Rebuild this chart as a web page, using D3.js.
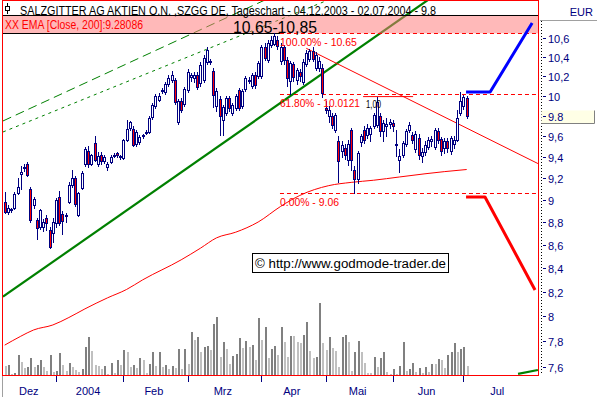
<!DOCTYPE html>
<html><head><meta charset="utf-8">
<script src="https://cdn.jsdelivr.net/npm/d3@7"></script>
<style>html,body{margin:0;padding:0;background:#fff;overflow:hidden}svg{display:block}text{font-family:"Liberation Sans",Arial,sans-serif}</style>
</head><body><svg id="c" width="597" height="397"></svg>
<script>
// ---- DATA ----
const opens=[8.98,8.89,8.91,8.93,9.06,9.24,9.29,9.33,9.10,8.95,
8.82,8.76,8.76,8.84,8.73,8.70,8.79,9.03,8.87,8.85,
8.98,9.14,9.20,8.86,9.11,9.33,9.46,9.33,9.53,9.33,
9.42,9.36,9.30,9.35,9.41,9.44,9.41,9.39,9.56,9.68,
9.67,9.52,9.54,9.60,9.63,9.64,9.79,9.90,9.96,10.05,
10.04,10.12,10.16,10.16,9.74,9.95,9.92,10.06,10.19,10.18,
10.21,10.13,10.16,10.35,10.35,10.25,9.90,9.97,9.76,9.83,
9.98,9.83,9.88,10.06,9.90,10.07,10.15,10.10,10.21,10.20,
10.20,10.50,10.37,10.53,10.54,10.58,10.36,10.50,10.37,10.15,
10.33,10.16,10.24,10.14,10.32,10.38,10.46,10.28,10.28,10.28,
9.88,9.80,9.80,9.66,9.55,9.46,9.48,9.37,9.66,9.28,
9.19,9.54,9.66,9.61,9.62,9.70,9.71,9.80,9.65,9.70,
9.72,9.73,9.51,9.37,9.42,9.52,9.66,9.61,9.47,9.58,
9.41,9.45,9.49,9.55,9.49,9.65,9.57,9.48,9.55,9.46,
9.52,9.56,9.83,9.90,9.98];
const highs=[9.07,8.95,8.93,9.07,9.20,9.31,9.33,9.35,9.12,9.03,
8.84,8.92,8.83,8.86,8.76,8.84,9.02,9.08,8.90,8.88,
9.16,9.28,9.22,9.07,9.27,9.49,9.50,9.43,9.60,9.45,
9.45,9.42,9.35,9.42,9.44,9.45,9.42,9.57,9.76,9.75,
9.70,9.66,9.61,9.62,9.66,9.80,9.93,10.02,10.03,10.08,
10.14,10.21,10.25,10.18,9.97,9.98,10.09,10.27,10.23,10.24,
10.24,10.35,10.42,10.50,10.38,10.28,10.08,10.00,9.91,10.00,
10.00,9.93,10.02,10.08,10.07,10.20,10.19,10.23,10.24,10.36,
10.52,10.55,10.58,10.62,10.65,10.62,10.55,10.53,10.40,10.36,
10.35,10.28,10.27,10.38,10.47,10.48,10.50,10.45,10.40,10.32,
9.95,9.90,9.83,9.83,9.60,9.55,9.52,9.56,9.68,9.31,
9.46,9.62,9.70,9.72,9.70,9.83,9.99,9.83,9.76,9.78,
9.77,9.76,9.66,9.47,9.55,9.67,9.74,9.64,9.65,9.62,
9.48,9.55,9.59,9.60,9.68,9.68,9.59,9.58,9.58,9.60,
9.60,9.86,10.04,10.01,10.00];
const lows=[8.88,8.87,8.89,8.92,9.05,9.10,9.27,9.22,8.80,8.93,
8.65,8.74,8.72,8.73,8.57,8.62,8.76,8.77,8.69,8.80,
8.97,9.12,8.94,8.85,9.10,9.31,9.30,9.32,9.36,9.31,
9.33,9.34,9.28,9.34,9.40,9.40,9.38,9.38,9.55,9.66,
9.50,9.50,9.52,9.58,9.62,9.63,9.77,9.88,9.95,10.03,
10.02,10.10,10.14,9.92,9.72,9.84,9.90,10.04,10.15,10.14,
10.07,10.10,10.14,10.33,10.33,9.89,9.85,9.61,9.61,9.81,
9.85,9.81,9.86,9.86,9.88,10.05,10.13,10.08,10.08,10.18,
10.18,10.37,10.35,10.50,10.52,10.48,10.33,10.33,10.10,10.02,
10.15,10.12,10.15,10.12,10.30,10.36,10.36,10.26,10.25,9.99,
9.83,9.74,9.68,9.64,9.16,9.40,9.38,9.32,9.28,9.06,
9.15,9.50,9.53,9.58,9.55,9.68,9.69,9.60,9.55,9.60,
9.68,9.65,9.41,9.26,9.40,9.50,9.64,9.53,9.45,9.38,
9.35,9.42,9.47,9.50,9.47,9.53,9.42,9.44,9.45,9.43,
9.48,9.55,9.81,9.87,9.78];
const closes=[8.89,8.93,8.92,9.05,9.12,9.26,9.30,9.23,8.82,9.01,
8.75,8.91,8.80,8.79,8.58,8.80,9.00,8.79,8.81,8.86,
9.14,9.20,8.96,9.06,9.25,9.47,9.33,9.42,9.37,9.41,
9.36,9.40,9.33,9.40,9.42,9.42,9.40,9.56,9.67,9.74,
9.51,9.64,9.59,9.61,9.64,9.78,9.91,10.00,10.00,10.06,
10.12,10.18,10.21,9.94,9.95,9.86,10.07,10.24,10.21,10.21,
10.09,10.31,10.39,10.47,10.36,10.01,10.05,9.80,9.89,9.98,
9.88,9.91,10.00,9.88,10.05,10.18,10.16,10.21,10.11,10.34,
10.50,10.39,10.55,10.58,10.62,10.51,10.50,10.37,10.18,10.34,
10.19,10.26,10.20,10.35,10.44,10.46,10.38,10.42,10.36,10.03,
9.86,9.86,9.71,9.81,9.36,9.51,9.42,9.52,9.37,9.19,
9.44,9.60,9.56,9.68,9.68,9.81,9.94,9.65,9.73,9.72,
9.74,9.70,9.52,9.41,9.53,9.65,9.71,9.56,9.62,9.42,
9.45,9.51,9.56,9.57,9.66,9.56,9.46,9.55,9.48,9.58,
9.56,9.78,9.95,9.99,9.80];
const volumes=[186,206,20,30,394,256,132,152,332,152,
206,290,166,82,394,62,82,434,206,82,
248,166,104,62,124,558,766,476,206,186,
124,186,20,248,42,290,206,496,456,166,
206,144,332,290,42,228,456,186,456,166,
206,124,186,144,518,124,518,228,868,704,
752,456,558,580,496,1014,1158,352,656,518,
228,380,414,744,538,676,558,600,290,1138,
704,952,332,518,580,394,952,662,352,786,
786,662,642,806,1056,476,332,352,1448,642,
496,766,538,476,166,766,806,662,82,456,
682,456,248,42,42,352,166,332,456,62,
20,124,20,186,662,82,124,248,62,144,
42,166,62,228,228,310,290,144,394,456,
642,456,518,558,186];
const emaIdx=[0,5,9,15,20,25,32,38,43,55,61,66,72,79,86,92,101,108,115,123,131,137,144];
const emaVal=[7.77,7.84,7.89,7.93,7.99,8.06,8.15,8.22,8.30,8.47,8.57,8.66,8.71,8.80,8.94,9.04,9.13,9.16,9.18,9.21,9.24,9.26,9.28];
const monthNames=["Dez","2004","Feb","Mrz","Apr","Mai","Jun","Jul"];
const monthStarts=[0,16,37,57,80,100,121,143,165];
const yTicks=[10.6,10.4,10.2,10,9.6,9.4,9.2,9,8.8,8.6,8.4,8.2,8,7.8,7.6];
const lastPrice=9.8;
const emaLast="9.28086";
const zoneLow=10.65, zoneHigh=10.85;
const fibNames=["100.00%","61.80%","0.00%"];
const fibValues=[10.65,10.0121,9.06];
const fibLabelVals=["10.65","10.0121","9.06"];
const fibStart=85.8;
const greenSolid=[[-0.53,8.16],[131.9,11.015]];
const greenLongDash=[[-0.53,9.747],[81.1,11.015]];
const greenShortDash=[[-0.53,9.639],[100.8,11.015]];
const greenBottom=[[160,7.547],[166.2,7.577]];
const redTrend=[[94,10.49],[166.2,9.336]];
const resistSeg=[[111.7,9.99],[127.3,9.99]];
const blueForecast=[[143.8,10.037],[151.3,10.037],[164.4,10.762]];
const redForecast=[[143.8,9.026],[149.7,9.026],[165.3,8.216]];

// ---- SCALES ----
const x=d3.scaleLinear().domain([0,144]).range([4.7,466.7]);
const y=d3.scaleLog().domain([10.6,7.6]).range([38,367]);
const vScale=d3.scaleLinear().domain([0,1448]).range([0,72.4]);
const NAVY="#000080";

const svg=d3.select("#c");
svg.append("rect").attr("width",597).attr("height",397).attr("fill","#fff");
svg.append("defs").append("clipPath").attr("id","plot")
  .append("rect").attr("x",3).attr("y",1).attr("width",535).attr("height",374);
const g=svg.append("g").attr("clip-path","url(#plot)");
const line=d3.line().x(d=>x(d[0])).y(d=>y(d[1]));

// volume
const idx=d3.range(opens.length);
g.append("g").attr("shape-rendering","crispEdges").selectAll("rect").data(idx).join("rect")
  .attr("x",i=>Math.round(x(i))-0.5).attr("width",2)
  .attr("y",i=>375-Math.round(vScale(volumes[i]))).attr("height",i=>Math.round(vScale(volumes[i])))
  .attr("fill",i=>(i>0&&volumes[i]>volumes[i-1])?"#808080":"#c0c0c0");

// EMA
g.append("path").datum(emaIdx.map((k,j)=>[k,emaVal[j]])).attr("d",d3.line().x(d=>x(d[0])).y(d=>y(d[1])).curve(d3.curveMonotoneX))
  .attr("fill","none").attr("stroke","#ff0000").attr("stroke-width",1);

// green lines
g.append("path").datum(greenLongDash).attr("d",line).attr("fill","none").attr("stroke","#008000").attr("stroke-width",1).attr("stroke-dasharray","9,5");
g.append("path").datum(greenShortDash).attr("d",line).attr("fill","none").attr("stroke","#008000").attr("stroke-width",1).attr("stroke-dasharray","3,4");
g.append("path").datum(greenSolid).attr("d",line).attr("fill","none").attr("stroke","#008000").attr("stroke-width",2.2);
g.append("path").datum(greenBottom).attr("d",line).attr("fill","none").attr("stroke","#008000").attr("stroke-width",2.2);
g.append("path").datum(redTrend).attr("d",line).attr("fill","none").attr("stroke","#ff0000").attr("stroke-width",1);

// pink zone band
g.append("rect").attr("x",3).attr("width",535).attr("y",y(zoneHigh)).attr("height",y(zoneLow)-y(zoneHigh))
  .attr("fill","#ff7878").attr("fill-opacity",0.52);
g.append("line").attr("x1",3).attr("x2",538).attr("y1",Math.round(y(zoneHigh))+0.5).attr("y2",Math.round(y(zoneHigh))+0.5).attr("stroke","#000");
g.append("line").attr("x1",3).attr("x2",x(fibStart)).attr("y1",Math.round(y(zoneLow))+0.5).attr("y2",Math.round(y(zoneLow))+0.5).attr("stroke","#000");

// fib lines
fibValues.forEach((v,k)=>{
  const yy=Math.round(y(v))+0.5;
  g.append("line").attr("x1",x(fibStart)).attr("x2",538).attr("y1",yy).attr("y2",yy)
    .attr("stroke","#ff0000").attr("stroke-dasharray","4,3");
});

// candles
const cg=g.append("g").attr("shape-rendering","crispEdges");
idx.forEach(i=>{
  const px=Math.round(x(i));
  cg.append("line").attr("x1",px+0.5).attr("x2",px+0.5).attr("y1",Math.round(y(highs[i]))).attr("y2",Math.round(y(lows[i]))+1)
    .attr("stroke",NAVY);
  const top=Math.round(y(Math.max(opens[i],closes[i])))+0.5;
  const bot=Math.round(y(Math.min(opens[i],closes[i])))+0.5;
  cg.append("rect").attr("x",px-0.5).attr("width",2).attr("y",top).attr("height",Math.max(1,bot-top))
    .attr("fill",closes[i]<opens[i]?"#ff0000":"#ffffff").attr("stroke",NAVY).attr("stroke-width",1);
});

// fib labels
fibValues.forEach((v,k)=>{
  const w=[77,80,59][k];
  g.append("text").attr("x",x(fibStart)).attr("y",y(v)+12.5).attr("fill","#ff0000").attr("font-size","10.8px")
    .attr("textLength",w).attr("lengthAdjust","spacingAndGlyphs").text(fibNames[k]+" - "+fibLabelVals[k]);
});
// short resistance segment + label
g.append("path").datum(resistSeg).attr("d",line).attr("stroke","#ff0000").attr("fill","none");
g.append("text").attr("x",x(resistSeg[0][0])+3).attr("y",y(resistSeg[0][1])+11).attr("font-size","10.8px").attr("fill","#000")
  .attr("textLength",15).attr("lengthAdjust","spacingAndGlyphs").text("1,00");

// forecasts
g.append("path").datum(blueForecast).attr("d",line).attr("fill","none").attr("stroke","#0000ff").attr("stroke-width",3).attr("stroke-linejoin","round");
g.append("path").datum(redForecast).attr("d",line).attr("fill","none").attr("stroke","#ff0000").attr("stroke-width",3).attr("stroke-linejoin","round");

// watermark
svg.append("rect").attr("x",252.5).attr("y",253.5).attr("width",196).attr("height",19).attr("fill","#fff").attr("stroke","#000");
svg.append("text").attr("x",255).attr("y",267.5).attr("font-size","12px").attr("fill","#000")
  .attr("textLength",191).attr("lengthAdjust","spacingAndGlyphs").text("\u00A9 http://www.godmode-trader.de");

// header texts
svg.append("line").attr("x1",7.5).attr("x2",7.5).attr("y1",3).attr("y2",14).attr("stroke","#000");
svg.append("rect").attr("x",5.5).attr("y",6.5).attr("width",4).attr("height",4).attr("fill","#fff").attr("stroke","#000");
svg.append("text").attr("x",20).attr("y",14.5).attr("font-size","12px").attr("fill","#000")
  .attr("textLength",416).attr("lengthAdjust","spacingAndGlyphs")
  .text("SALZGITTER AG AKTIEN O.N. ,SZGG DE, Tageschart - 04.12.2003 - 02.07.2004 - 9.8");
svg.append("text").attr("x",5).attr("y",29).attr("font-size","12px").attr("fill","#ff0000")
  .attr("textLength",138).attr("lengthAdjust","spacingAndGlyphs").text("XX EMA [Close, 200]:"+emaLast);
svg.append("text").attr("x",233).attr("y",32.5).attr("font-size","16px").attr("fill","#000")
  .attr("textLength",84).attr("lengthAdjust","spacingAndGlyphs")
  .text(String(zoneLow).replace(".",",")+"-"+String(zoneHigh).replace(".",","));

// frame
svg.append("rect").attr("x",2.5).attr("y",0.5).attr("width",536).attr("height",375).attr("fill","none").attr("stroke","#ff0000");

// x axis
svg.append("line").attr("x1",2.5).attr("x2",2.5).attr("y1",376).attr("y2",397).attr("stroke","#a0a0a0");
for(let k=1;k<monthStarts.length-1;k++){
  const px=Math.round(x(monthStarts[k]))+0.5;
  svg.append("line").attr("x1",px).attr("x2",px).attr("y1",376).attr("y2",382).attr("stroke",NAVY);
}
monthNames.forEach((m,k)=>{
  const c=x((monthStarts[k]+monthStarts[k+1])/2-0.5);
  svg.append("text").attr("x",c).attr("y",395).attr("text-anchor","middle").attr("font-size","11px").attr("fill",NAVY).text(m);
});

// y axis
svg.append("line").attr("x1",541.5).attr("x2",541.5).attr("y1",21).attr("y2",375).attr("stroke","#000").attr("stroke-dasharray","1,2");
svg.append("line").attr("x1",540).attr("x2",597).attr("y1",20.5).attr("y2",20.5).attr("stroke","#a0a0a0");
svg.append("text").attr("x",593).attr("y",16).attr("text-anchor","end").attr("font-size","11px").attr("fill",NAVY).text("EUR");
yTicks.forEach(v=>{
  const yy=Math.round(y(v))+0.5;
  svg.append("line").attr("x1",543).attr("x2",546).attr("y1",yy).attr("y2",yy).attr("stroke",NAVY);
  svg.append("text").attr("x",548).attr("y",yy+4).attr("font-size","11px").attr("fill",NAVY).text(String(v).replace(".",","));
});
const ly=Math.round(y(lastPrice))+0.5;
svg.append("rect").attr("x",541.5).attr("y",ly-6).attr("width",53).attr("height",13).attr("fill","#ffffe6").attr("stroke","none");
svg.append("path").attr("d",`M541.5,${ly+7}H594.5V${ly-6}`).attr("fill","none").attr("stroke","#808080");
svg.append("line").attr("x1",543).attr("x2",546).attr("y1",ly).attr("y2",ly).attr("stroke",NAVY);
svg.append("text").attr("x",548).attr("y",ly+4).attr("font-size","11px").attr("fill",NAVY).text(String(lastPrice));
</script></body></html>
